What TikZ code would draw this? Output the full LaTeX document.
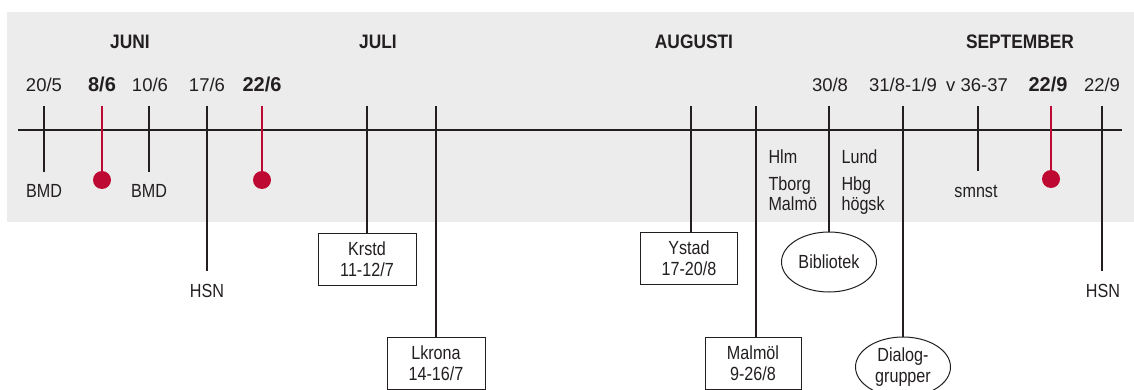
\documentclass[tikz,border=0pt]{standalone}
\usepackage{fontspec}
\setmainfont{Liberation Sans}
\newfontfamily\narrowsans{Liberation Sans}[FakeStretch=0.85]
\newfontfamily\monthsans{Liberation Sans}[FakeStretch=0.89]
\usetikzlibrary{shapes.geometric}
\definecolor{bandgrey}{HTML}{ECECEC}
\definecolor{markred}{HTML}{BE0A32}
\definecolor{inkline}{HTML}{231F20}
\newcommand\smalltxt{\narrowsans\fontsize{19}{21}\selectfont}
\newcommand\bigtxt{\fontsize{18.5}{22}\selectfont}
\newcommand\boldtxt{\bfseries\fontsize{20}{22}\selectfont}
\newcommand\monthtxt{\monthsans\bfseries\fontsize{19.5}{22}\selectfont}
\tikzset{
  eventline/.style={draw=inkline, line width=2.2pt},
  redline/.style={draw=markred, line width=2.2pt},
  reddot/.style={circle, fill=markred, inner sep=0pt, minimum size=18pt},
  datebox/.style={draw=inkline, line width=1pt, fill=white, align=center,
    minimum width=98pt, minimum height=52pt, inner sep=1pt, font=\smalltxt},
  placeoval/.style={ellipse, draw=inkline, line width=1pt, fill=white, align=center,
    minimum width=95pt, minimum height=60pt, inner sep=0pt, font=\smalltxt},
  month/.style={anchor=base, font=\monthtxt},
  date/.style={anchor=base, font=\bigtxt},
  place/.style={anchor=base, font=\smalltxt},
  side/.style={anchor=base west, font=\smalltxt}
}
\begin{document}
\begin{tikzpicture}[x=1pt, y=-1pt, every node/.append style={text=inkline}]
  \useasboundingbox (0,0) rectangle (1134,390);
  \fill[bandgrey] (7,12) rectangle (1134,222);
  \coordinate (axl) at (18,130);
  \coordinate (axr) at (1122,130);
  \draw[eventline, line width=2pt] (axl) -- (axr);

  \node[month] (juni) at (130,49) {JUNI};
  \node[month] (juli) at (378,49) {JULI};
  \node[month] (aug) at (694,49) {AUGUSTI};
  \node[month] (sept) at (1020,49) {SEPTEMBER};

  \node[date] (d205) at (44,92) {20/5};
  \node[date, font=\boldtxt] (d86) at (102,92) {8/6};
  \node[date] (d106) at (150,92) {10/6};
  \node[date] (d176) at (207,92) {17/6};
  \node[date, font=\boldtxt] (d226) at (262,92) {22/6};
  \node[date] (d308) at (830,92) {30/8};
  \node[date] (d319) at (903,92) {31/8-1/9};
  \node[date] (dv36) at (977,92) {v 36-37};
  \node[date, font=\boldtxt] (d229b) at (1048,92) {22/9};
  \node[date] (d229) at (1102,92) {22/9};

  \foreach \x/\n/\b in {44/a/172, 149/c/172, 207/d/271, 978/l/171, 1102/n/271}{
    \coordinate (top\n) at (\x,106);
    \coordinate (end\n) at (\x,\b);
    \draw[eventline] (top\n) -- (end\n);
  }
  \node[place] (bmda) at (44,197) {BMD};
  \node[place] (bmdc) at (149,197) {BMD};
  \node[place] (hsnd) at (207,297) {HSN};
  \node[place] (smnst) at (976,197) {smnst};
  \node[place] (hsnn) at (1103,297) {HSN};

  \foreach \x/\n/\y in {102/b/180, 262/e/180, 1051/m/179}{
    \coordinate (top\n) at (\x,106);
    \node[reddot] (dot\n) at (\x,\y) {};
    \draw[redline] (top\n) -- (dot\n.center);
  }

  \node[datebox] (krstd) at (367,259) {Krstd\\11-12/7};
  \node[datebox] (lkrona) at (436,363) {Lkrona\\14-16/7};
  \node[datebox, minimum width=97pt] (ystad) at (689,258) {Ystad\\17-20/8};
  \node[datebox, minimum width=96pt] (malmol) at (753,363) {Malmöl\\9-26/8};
  \node[placeoval] (bibl) at (829,262) {Bibliotek};
  \node[placeoval] (dialog) at (903,367) {Dialog-\\grupper};
  \foreach \x/\n in {367/f, 436/g, 691/h, 756/i, 829/j, 903/k}
    \coordinate (top\n) at (\x,106);
  \draw[eventline] (topf) -- (topf |- krstd.north);
  \draw[eventline] (topg) -- (topg |- lkrona.north);
  \draw[eventline] (toph) -- (toph |- ystad.north);
  \draw[eventline] (topi) -- (topi |- malmol.north);
  \draw[eventline] (topj) -- (bibl.north);
  \draw[eventline] (topk) -- (dialog.north);

  \node[side] (hlm) at (765,164) {Hlm};
  \node[side] (tborg) at (765,190) {Tborg};
  \node[side] (malmo) at (765,210) {Malmö};
  \node[side] (lund) at (838,164) {Lund};
  \node[side] (hbg) at (838,190) {Hbg};
  \node[side] (hogsk) at (838,210) {högsk};
\end{tikzpicture}
\end{document}
